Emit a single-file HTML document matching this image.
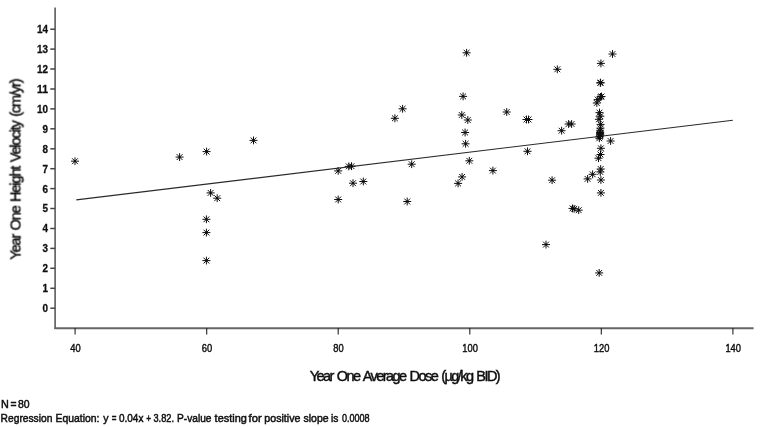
<!DOCTYPE html>
<html><head><meta charset="utf-8"><title>Year One Height Velocity vs Dose</title>
<style>
html,body{margin:0;padding:0;background:#fff;}
body{width:765px;height:427px;overflow:hidden;font-family:"Liberation Sans",sans-serif;}
svg{display:block;}
text{font-family:"Liberation Sans",sans-serif;fill:#111;}
.yt{font-size:11px;font-weight:bold;text-anchor:end;stroke:#111;stroke-width:0.3px;}
.xt{font-size:11px;text-anchor:middle;stroke:#111;stroke-width:0.45px;}
.ttl{font-size:14.5px;word-spacing:1.5px;stroke:#111;stroke-width:0.45px;}
.note{font-size:11.2px;stroke:#111;stroke-width:0.5px;}
</style></head><body>
<svg width="765" height="427" viewBox="0 0 765 427">
<defs>
<g id="s" stroke="#111" stroke-linecap="butt" fill="none">
<path d="M-4 0H4M0 -3.9V3.9M-2.9 -2.9L2.9 2.9M-2.9 2.9L2.9 -2.9" stroke-width="1"/><circle r="1.1" fill="#111" stroke="none"/>
</g>
<filter id="b" x="-5%" y="-5%" width="110%" height="110%"><feGaussianBlur stdDeviation="0.55"/></filter>
<filter id="b2" x="-5%" y="-5%" width="110%" height="110%"><feGaussianBlur stdDeviation="0.75"/></filter>
</defs>
<rect width="765" height="427" fill="#fff"/>
<g filter="url(#b)">

<path d="M55.1 7.6V329.1" fill="none" stroke="#505050" stroke-width="1.5"/>
<path d="M54.4 328.2H753.6" fill="none" stroke="#666" stroke-width="2.1"/>
<path d="M50.3 308.2H55" stroke="#444" stroke-width="1.5"/>
<text class="yt" x="48" y="312.1" textLength="5.5" lengthAdjust="spacingAndGlyphs">0</text>
<path d="M50.3 288.3H55" stroke="#444" stroke-width="1.5"/>
<text class="yt" x="48" y="292.2" textLength="5.5" lengthAdjust="spacingAndGlyphs">1</text>
<path d="M50.3 268.3H55" stroke="#444" stroke-width="1.5"/>
<text class="yt" x="48" y="272.2" textLength="5.5" lengthAdjust="spacingAndGlyphs">2</text>
<path d="M50.3 248.4H55" stroke="#444" stroke-width="1.5"/>
<text class="yt" x="48" y="252.3" textLength="5.5" lengthAdjust="spacingAndGlyphs">3</text>
<path d="M50.3 228.5H55" stroke="#444" stroke-width="1.5"/>
<text class="yt" x="48" y="232.4" textLength="5.5" lengthAdjust="spacingAndGlyphs">4</text>
<path d="M50.3 208.5H55" stroke="#444" stroke-width="1.5"/>
<text class="yt" x="48" y="212.4" textLength="5.5" lengthAdjust="spacingAndGlyphs">5</text>
<path d="M50.3 188.6H55" stroke="#444" stroke-width="1.5"/>
<text class="yt" x="48" y="192.5" textLength="5.5" lengthAdjust="spacingAndGlyphs">6</text>
<path d="M50.3 168.7H55" stroke="#444" stroke-width="1.5"/>
<text class="yt" x="48" y="172.6" textLength="5.5" lengthAdjust="spacingAndGlyphs">7</text>
<path d="M50.3 148.8H55" stroke="#444" stroke-width="1.5"/>
<text class="yt" x="48" y="152.7" textLength="5.5" lengthAdjust="spacingAndGlyphs">8</text>
<path d="M50.3 128.8H55" stroke="#444" stroke-width="1.5"/>
<text class="yt" x="48" y="132.7" textLength="5.5" lengthAdjust="spacingAndGlyphs">9</text>
<path d="M50.3 108.9H55" stroke="#444" stroke-width="1.5"/>
<text class="yt" x="48" y="112.8" textLength="11.0" lengthAdjust="spacingAndGlyphs">10</text>
<path d="M50.3 89.0H55" stroke="#444" stroke-width="1.5"/>
<text class="yt" x="48" y="92.9" textLength="11.0" lengthAdjust="spacingAndGlyphs">11</text>
<path d="M50.3 69.0H55" stroke="#444" stroke-width="1.5"/>
<text class="yt" x="48" y="72.9" textLength="11.0" lengthAdjust="spacingAndGlyphs">12</text>
<path d="M50.3 49.1H55" stroke="#444" stroke-width="1.5"/>
<text class="yt" x="48" y="53.0" textLength="11.0" lengthAdjust="spacingAndGlyphs">13</text>
<path d="M50.3 29.2H55" stroke="#444" stroke-width="1.5"/>
<text class="yt" x="48" y="33.1" textLength="11.0" lengthAdjust="spacingAndGlyphs">14</text>
<path d="M75.1 328V334.6" stroke="#222" stroke-width="1.1"/>
<text class="xt" x="75.4" y="352" textLength="10.4" lengthAdjust="spacingAndGlyphs">40</text>
<path d="M206.7 328V334.6" stroke="#222" stroke-width="1.1"/>
<text class="xt" x="207.0" y="352" textLength="10.4" lengthAdjust="spacingAndGlyphs">60</text>
<path d="M338.2 328V334.6" stroke="#222" stroke-width="1.1"/>
<text class="xt" x="338.5" y="352" textLength="10.4" lengthAdjust="spacingAndGlyphs">80</text>
<path d="M469.8 328V334.6" stroke="#222" stroke-width="1.1"/>
<text class="xt" x="470.1" y="352" textLength="15.6" lengthAdjust="spacingAndGlyphs">100</text>
<path d="M601.3 328V334.6" stroke="#222" stroke-width="1.1"/>
<text class="xt" x="601.6" y="352" textLength="15.6" lengthAdjust="spacingAndGlyphs">120</text>
<path d="M732.9 328V334.6" stroke="#222" stroke-width="1.1"/>
<text class="xt" x="733.2" y="352" textLength="15.6" lengthAdjust="spacingAndGlyphs">140</text>
<path d="M76.3 199.9L732.8 120.2" stroke="#2a2a2a" stroke-width="1.15"/>
</g><g filter="url(#b2)">
<use href="#s" x="75.0" y="161.2"/>
<use href="#s" x="179.6" y="157.1"/>
<use href="#s" x="206.6" y="151.6"/>
<use href="#s" x="210.6" y="192.9"/>
<use href="#s" x="217.2" y="198.2"/>
<use href="#s" x="206.4" y="219.3"/>
<use href="#s" x="206.4" y="232.6"/>
<use href="#s" x="206.4" y="260.6"/>
<use href="#s" x="253.5" y="140.4"/>
<use href="#s" x="402.6" y="108.8"/>
<use href="#s" x="394.9" y="118.3"/>
<use href="#s" x="338.2" y="170.9"/>
<use href="#s" x="348.8" y="166.4"/>
<use href="#s" x="351.5" y="166.2"/>
<use href="#s" x="411.7" y="164.2"/>
<use href="#s" x="353.0" y="183.2"/>
<use href="#s" x="363.3" y="181.5"/>
<use href="#s" x="338.2" y="199.5"/>
<use href="#s" x="407.2" y="201.5"/>
<use href="#s" x="466.6" y="52.8"/>
<use href="#s" x="463.1" y="96.4"/>
<use href="#s" x="461.8" y="115.0"/>
<use href="#s" x="467.8" y="120.0"/>
<use href="#s" x="465.1" y="132.5"/>
<use href="#s" x="465.6" y="143.8"/>
<use href="#s" x="469.3" y="160.8"/>
<use href="#s" x="462.1" y="176.9"/>
<use href="#s" x="458.1" y="183.4"/>
<use href="#s" x="492.9" y="170.6"/>
<use href="#s" x="506.7" y="112.0"/>
<use href="#s" x="526.5" y="119.5"/>
<use href="#s" x="528.5" y="119.5"/>
<use href="#s" x="527.5" y="151.3"/>
<use href="#s" x="557.3" y="69.3"/>
<use href="#s" x="561.6" y="130.7"/>
<use href="#s" x="568.6" y="124.0"/>
<use href="#s" x="571.6" y="124.0"/>
<use href="#s" x="552.1" y="180.2"/>
<use href="#s" x="546.0" y="244.6"/>
<use href="#s" x="572.5" y="208.4"/>
<use href="#s" x="574.1" y="208.8"/>
<use href="#s" x="578.7" y="210.2"/>
<use href="#s" x="587.6" y="178.9"/>
<use href="#s" x="592.6" y="174.3"/>
<use href="#s" x="612.5" y="54.0"/>
<use href="#s" x="600.9" y="63.4"/>
<use href="#s" x="600.3" y="83.0"/>
<use href="#s" x="600.6" y="82.6"/>
<use href="#s" x="600.5" y="96.9"/>
<use href="#s" x="601.5" y="96.5"/>
<use href="#s" x="597.7" y="99.6"/>
<use href="#s" x="596.8" y="103.0"/>
<use href="#s" x="599.5" y="112.6"/>
<use href="#s" x="600.3" y="116.2"/>
<use href="#s" x="598.9" y="119.3"/>
<use href="#s" x="600.6" y="124.4"/>
<use href="#s" x="600.4" y="128.2"/>
<use href="#s" x="600.1" y="130.9"/>
<use href="#s" x="600.1" y="132.5"/>
<use href="#s" x="600.1" y="133.7"/>
<use href="#s" x="600.1" y="135.1"/>
<use href="#s" x="599.7" y="136.7"/>
<use href="#s" x="599.3" y="138.3"/>
<use href="#s" x="600.2" y="134.2"/>
<use href="#s" x="610.6" y="141.0"/>
<use href="#s" x="600.9" y="148.3"/>
<use href="#s" x="600.5" y="154.5"/>
<use href="#s" x="598.5" y="158.2"/>
<use href="#s" x="600.7" y="169.0"/>
<use href="#s" x="600.3" y="172.0"/>
<use href="#s" x="600.9" y="180.0"/>
<use href="#s" x="600.9" y="192.9"/>
<use href="#s" x="599.2" y="272.9"/>
</g><g filter="url(#b)">
<text class="ttl" x="309.7" y="380.6" textLength="191" lengthAdjust="spacing">Year One Average Dose (µg/kg BID)</text>
<text class="ttl" transform="translate(20.5 259.7) rotate(-90)" textLength="181.3" lengthAdjust="spacing">Year One Height Velocity (cm/yr)</text>
<text class="note" y="407.7"><tspan x="0.9" textLength="7.8" lengthAdjust="spacingAndGlyphs">N</tspan> <tspan x="10.6" textLength="6" lengthAdjust="spacingAndGlyphs">=</tspan> <tspan x="18" textLength="11.6" lengthAdjust="spacingAndGlyphs">80</tspan></text>
<text class="note" y="422.3"><tspan x="0.6" textLength="51.8" lengthAdjust="spacingAndGlyphs">Regression</tspan> <tspan x="55.5" textLength="43.9" lengthAdjust="spacingAndGlyphs">Equation:</tspan> <tspan x="103.3" textLength="5.3" lengthAdjust="spacingAndGlyphs">y</tspan> <tspan x="111.7" textLength="4.7" lengthAdjust="spacingAndGlyphs">=</tspan> <tspan x="119.0" textLength="24.4" lengthAdjust="spacingAndGlyphs">0.04x</tspan> <tspan x="146.3" textLength="4.8" lengthAdjust="spacingAndGlyphs">+</tspan> <tspan x="153.5" textLength="20.5" lengthAdjust="spacingAndGlyphs">3.82.</tspan> <tspan x="177.1" textLength="34.4" lengthAdjust="spacingAndGlyphs">P-value</tspan> <tspan x="214.6" textLength="32.2" lengthAdjust="spacingAndGlyphs">testing</tspan> <tspan x="248.6" textLength="13.1" lengthAdjust="spacingAndGlyphs">for</tspan> <tspan x="264.3" textLength="36.1" lengthAdjust="spacingAndGlyphs">positive</tspan> <tspan x="303.5" textLength="25.1" lengthAdjust="spacingAndGlyphs">slope</tspan> <tspan x="330.9" textLength="7.4" lengthAdjust="spacingAndGlyphs">is</tspan> <tspan x="341.9" textLength="27.7" lengthAdjust="spacingAndGlyphs">0.0008</tspan></text>
</g></svg></body></html>
